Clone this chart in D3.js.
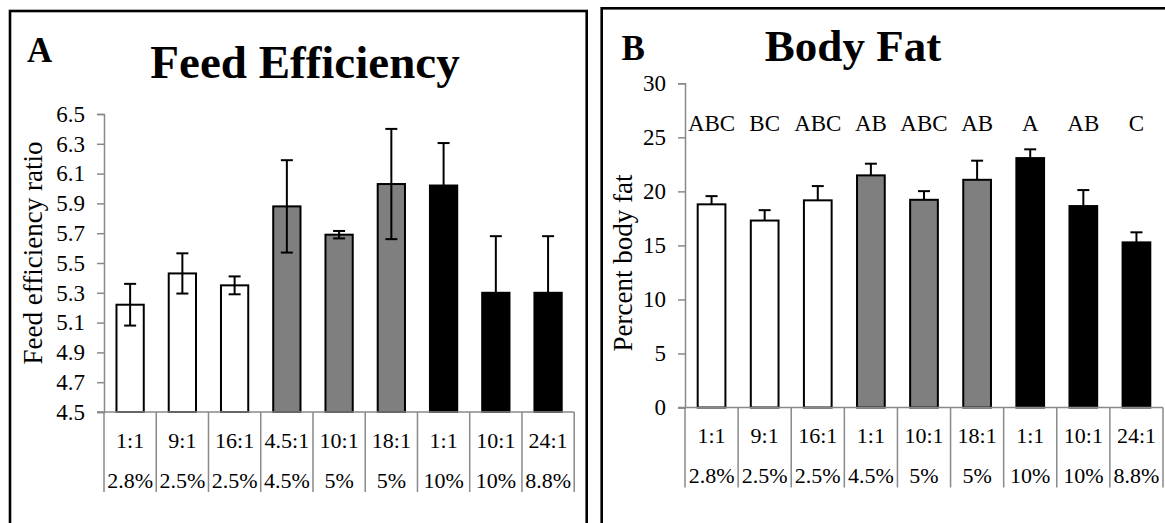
<!DOCTYPE html>
<html>
<head>
<meta charset="utf-8">
<script src="https://cdn.jsdelivr.net/npm/d3@7"></script>
<style>
  html, body { margin: 0; padding: 0; background: #fff; }
  svg { display: block; }
  text { font-family: "Liberation Serif", "Times New Roman", serif; fill: #000; }
</style>
</head>
<body>
<svg id="chart" width="1165" height="523"></svg>
<script>
// Diet groups: omega-6:omega-3 ratio and fat level
const ratioLabels = ["1:1", "9:1", "16:1", "4.5:1", "10:1", "18:1", "1:1", "10:1", "24:1"];
const ratioLabelsB = ["1:1", "9:1", "16:1", "1:1", "10:1", "18:1", "1:1", "10:1", "24:1"];
const fatLabels = ["2.8%", "2.5%", "2.5%", "4.5%", "5%", "5%", "10%", "10%", "8.8%"];
const groupFill = ["#ffffff", "#ffffff", "#ffffff", "#7f7f7f", "#7f7f7f", "#7f7f7f", "#000000", "#000000", "#000000"];

// Panel A: feed efficiency ratio (mean, error)
const feedEff = [5.22, 5.43, 5.35, 5.88, 5.69, 6.03, 6.02, 5.30, 5.30];
const feedEffErr = [0.14, 0.135, 0.06, 0.31, 0.025, 0.37, 0.285, 0.38, 0.38];
const feedTicks = [4.5, 4.7, 4.9, 5.1, 5.3, 5.5, 5.7, 5.9, 6.1, 6.3, 6.5];

// Panel B: percent body fat (mean, error) and significance letters
const bodyFat = [18.8, 17.3, 19.17, 21.48, 19.22, 21.07, 23.08, 18.64, 15.28];
const bodyFatErr = [0.76, 0.96, 1.32, 1.08, 0.8, 1.77, 0.81, 1.48, 0.93];
const sigLetters = ["ABC", "BC", "ABC", "AB", "ABC", "AB", "A", "AB", "C"];
const fatTicks = [0, 5, 10, 15, 20, 25, 30];

const svg = d3.select("#chart");
const axisGrey = "#898989";

function panel(cfg) {
  const g = svg.append("g");
  const idx = d3.range(cfg.values.length);

  const x = d3.scaleBand().domain(idx).range([cfg.x0, cfg.x1])
    .paddingInner(0.478).paddingOuter(0.239);
  const y = d3.scaleLinear().domain(cfg.domain).range([cfg.yBottom, cfg.yTop]);

  // frame around the panel
  g.append("rect")
    .attr("x", cfg.frame[0]).attr("y", cfg.frame[1])
    .attr("width", cfg.frame[2]).attr("height", cfg.frame[3])
    .attr("fill", "none").attr("stroke", "#000").attr("stroke-width", 2.6);

  // panel letter and title
  g.append("text").attr("x", cfg.letterPos[0]).attr("y", cfg.letterPos[1])
    .attr("font-size", 35).attr("font-weight", "bold").text(cfg.letter);
  g.append("text").attr("x", cfg.titlePos[0]).attr("y", cfg.titlePos[1])
    .attr("text-anchor", "middle").attr("font-size", cfg.titleSize).attr("font-weight", "bold")
    .text(cfg.title);

  // value axis
  const yAxis = d3.axisLeft(y).tickValues(cfg.ticks).tickSize(7).tickPadding(12)
    .tickFormat(cfg.tickFormat);
  const ya = g.append("g").attr("transform", `translate(${cfg.x0},0)`).call(yAxis);
  ya.select(".domain").attr("stroke", axisGrey).attr("stroke-width", 1.5);
  ya.selectAll(".tick line").attr("stroke", axisGrey).attr("stroke-width", 1.5);
  ya.selectAll(".tick text").attr("font-size", 23)
    .attr("font-family", "Liberation Serif").attr("fill", "#000");

  // axis title
  g.append("text")
    .attr("transform", `translate(${cfg.yTitlePos[0]},${cfg.yTitlePos[1]}) rotate(-90)`)
    .attr("text-anchor", "middle").attr("dominant-baseline", "central")
    .attr("font-size", 27).text(cfg.yTitle);

  // bars
  g.selectAll("rect.bar").data(idx).join("rect").attr("class", "bar")
    .attr("x", i => x(i)).attr("width", x.bandwidth())
    .attr("y", i => y(cfg.values[i]))
    .attr("height", i => y(cfg.domain[0]) - y(cfg.values[i]))
    .attr("fill", i => groupFill[i]).attr("stroke", "#000").attr("stroke-width", 2);

  // error bars
  const cap = 6;
  const eb = g.selectAll("g.err").data(idx).join("g").attr("class", "err")
    .attr("stroke", "#000").attr("stroke-width", 2);
  eb.append("line")
    .attr("x1", i => x(i) + x.bandwidth() / 2).attr("x2", i => x(i) + x.bandwidth() / 2)
    .attr("y1", i => y(cfg.values[i] + cfg.errs[i]))
    .attr("y2", i => y(cfg.values[i] - (cfg.twoSided ? cfg.errs[i] : 0)));
  eb.append("line")
    .attr("x1", i => x(i) + x.bandwidth() / 2 - cap).attr("x2", i => x(i) + x.bandwidth() / 2 + cap)
    .attr("y1", i => y(cfg.values[i] + cfg.errs[i])).attr("y2", i => y(cfg.values[i] + cfg.errs[i]));
  if (cfg.twoSided) {
    eb.append("line")
      .attr("x1", i => x(i) + x.bandwidth() / 2 - cap).attr("x2", i => x(i) + x.bandwidth() / 2 + cap)
      .attr("y1", i => y(cfg.values[i] - cfg.errs[i])).attr("y2", i => y(cfg.values[i] - cfg.errs[i]));
  }

  // category axis with two label rows separated by vertical dividers
  const base = y(cfg.domain[0]);
  const step = x.step();
  g.append("line").attr("x1", cfg.x0 - 7).attr("x2", cfg.x1)
    .attr("y1", base).attr("y2", base)
    .attr("stroke", axisGrey).attr("stroke-width", 1.5);
  const seps = d3.range(cfg.values.length + 1).map(k => cfg.x0 + k * step);
  g.selectAll("line.sep").data(seps).join("line").attr("class", "sep")
    .attr("x1", d => d).attr("x2", d => d)
    .attr("y1", base).attr("y2", base + 80)
    .attr("stroke", axisGrey).attr("stroke-width", 1.5);
  g.selectAll("text.row1").data(idx).join("text").attr("class", "row1")
    .attr("x", i => x(i) + x.bandwidth() / 2).attr("y", base + 28)
    .attr("text-anchor", "middle").attr("dominant-baseline", "central")
    .attr("font-size", 22).text(i => cfg.ratios[i]);
  g.selectAll("text.row2").data(idx).join("text").attr("class", "row2")
    .attr("x", i => x(i) + x.bandwidth() / 2).attr("y", base + 68)
    .attr("text-anchor", "middle").attr("dominant-baseline", "central")
    .attr("font-size", 22).text(i => fatLabels[i]);

  // significance letters
  if (cfg.letters) {
    g.selectAll("text.sig").data(idx).join("text").attr("class", "sig")
      .attr("x", i => x(i) + x.bandwidth() / 2).attr("y", cfg.lettersY)
      .attr("text-anchor", "middle").attr("dominant-baseline", "central")
      .attr("font-size", 23).text(i => cfg.letters[i]);
  }
}

panel({
  values: feedEff, errs: feedEffErr, twoSided: true, ratios: ratioLabels,
  domain: [4.5, 6.5], ticks: feedTicks, tickFormat: d3.format(".1f"),
  x0: 104, x1: 574.2, yTop: 114, yBottom: 412,
  frame: [10, 11, 576.7, 530],
  letter: "A", letterPos: [27, 61.5],
  title: "Feed Efficiency", titleSize: 47, titlePos: [305, 78],
  yTitle: "Feed efficiency ratio", yTitlePos: [33, 253]
});

panel({
  values: bodyFat, errs: bodyFatErr, twoSided: false, ratios: ratioLabelsB,
  domain: [0, 30], ticks: fatTicks, tickFormat: d3.format("d"),
  x0: 685, x1: 1163, yTop: 83.3, yBottom: 407.5,
  frame: [601.7, 8.3, 600, 530],
  letter: "B", letterPos: [621.5, 60],
  title: "Body Fat", titleSize: 45, titlePos: [853, 61],
  yTitle: "Percent body fat", yTitlePos: [623, 263],
  letters: sigLetters, lettersY: 123
});
</script>
</body>
</html>
